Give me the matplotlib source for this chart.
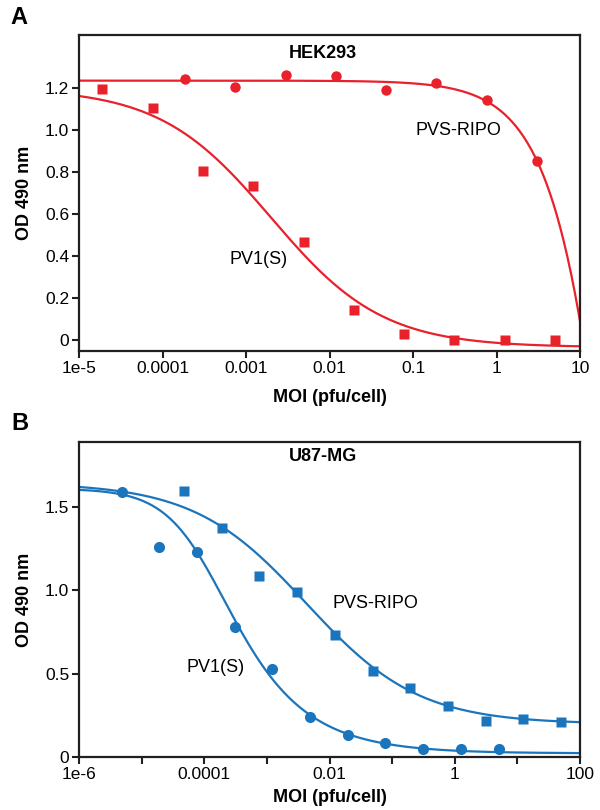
import numpy as np
import matplotlib
matplotlib.use('Agg')
from matplotlib import pyplot as plt

plt.rcParams['font.family'] = ['Liberation Sans', 'DejaVu Sans']

RED = '#E8212B'
BLUE = '#1B75BC'
INK = '#231F20'

# panel A - HEK293
hek_pv1_moi = [1.9e-5, 7.6e-5, 3.05e-4, 1.22e-3, 4.9e-3, 0.0195, 0.078, 0.31, 1.25, 5.0]
hek_pv1_od = [1.197, 1.105, 0.803, 0.735, 0.467, 0.143, 0.027, 0.002, 0.0, 0.0]
hek_ripo_moi = [1.86e-4, 7.45e-4, 2.98e-3, 0.0119, 0.0477, 0.19, 0.76, 3.05]
hek_ripo_od = [1.241, 1.206, 1.263, 1.255, 1.19, 1.225, 1.141, 0.85]

# panel B - U87-MG
u87_pv1_moi = [4.77e-6, 1.9e-5, 7.6e-5, 3.05e-4, 1.22e-3, 4.88e-3, 0.0195, 0.078, 0.3125, 1.25, 5.0]
u87_pv1_od = [1.588, 1.258, 1.228, 0.778, 0.526, 0.242, 0.132, 0.082, 0.050, 0.048, 0.050]
u87_ripo_moi = [4.77e-5, 1.9e-4, 7.6e-4, 3.05e-3, 0.0122, 0.049, 0.195, 0.78, 3.125, 12.5, 50]
u87_ripo_od = [1.596, 1.376, 1.086, 0.988, 0.732, 0.516, 0.416, 0.306, 0.218, 0.228, 0.212]

# fitted dose-response curves: top, bottom, log10(ec50), hill, asymmetry
hek_pv1_fit = (1.2, -0.035, -2.70, 0.65, 1.0)
hek_ripo_fit = (1.235, -8.27, 1.863, 1.0, 1.0)
u87_pv1_fit = (1.61, 0.022, -3.98, 1.0, 0.5)
u87_ripo_fit = (1.645, 0.198, -2.37, 0.483, 1.0)

hek_xticks = [1e-5, 1e-4, 1e-3, 1e-2, 1e-1, 1, 10]
hek_xlabels = ['1e-5', '0.0001', '0.001', '0.01', '0.1', '1', '10']
hek_yticks = [0, 0.2, 0.4, 0.6, 0.8, 1.0, 1.2]
hek_ylabels = ['0', '0.2', '0.4', '0.6', '0.8', '1.0', '1.2']

u87_xticks = [1e-6, 1e-5, 1e-4, 1e-3, 1e-2, 1e-1, 1, 10, 100]
u87_xlabels = ['1e-6', '', '0.0001', '', '0.01', '', '1', '', '100']
u87_yticks = [0, 0.5, 1.0, 1.5]
u87_ylabels = ['0', '0.5', '1.0', '1.5']


def dose_response(x, top, bottom, log_ec50, hill, asym):
	return bottom + (top - bottom) / (1 + (x / 10**log_ec50)**hill)**asym


def panel(ax, xlim, ylim, xticks, xlabels, yticks, ylabels, color):
	ax.set_xscale('log')
	ax.set_xlim(*xlim)
	ax.set_ylim(*ylim)
	ax.set_xticks(xticks)
	ax.set_xticklabels(xlabels)
	ax.xaxis.set_minor_locator(matplotlib.ticker.NullLocator())
	ax.set_yticks(yticks)
	ax.set_yticklabels(ylabels)
	for s in ax.spines.values():
		s.set_linewidth(1.6)
		s.set_color(INK)
	ax.tick_params(direction='out', length=5, width=1.5, color=INK,
				   labelsize=12.5, pad=2)


def main():
	fig = plt.figure(figsize=(6, 8.1), dpi=100)

	# A
	ax = fig.add_axes([0.1317, 0.5667, 0.835, 0.390])
	panel(ax, (1e-5, 10), (-0.0524, 1.452), hek_xticks, hek_xlabels,
		  hek_yticks, hek_ylabels, RED)
	xs = np.logspace(-5, 1, 400)
	ax.plot(xs, dose_response(xs, *hek_ripo_fit), color=RED, lw=1.6)
	ax.plot(xs, dose_response(xs, *hek_pv1_fit), color=RED, lw=1.6)
	ax.plot(hek_ripo_moi, hek_ripo_od, 'o', color=RED, ms=7.5, mec='none')
	ax.plot(hek_pv1_moi, hek_pv1_od, 's', color=RED, ms=6.5, mec='none')
	ax.text(0.486, 0.9415, 'HEK293', transform=ax.transAxes, ha='center',
			va='center', fontsize=13, fontweight='bold')
	ax.text(0.7565, 0.6994, 'PVS-RIPO', transform=ax.transAxes, ha='center',
			va='center', fontsize=13)
	ax.text(0.3583, 0.288, 'PV1(S)', transform=ax.transAxes, ha='center',
			va='center', fontsize=13)
	ax.set_xlabel('MOI (pfu/cell)', fontsize=13, fontweight='bold', va='center')
	ax.xaxis.set_label_coords(0.5, -0.1487)
	ax.set_ylabel('OD 490 nm', fontsize=13, fontweight='bold', va='center')
	ax.yaxis.set_label_coords(-0.1088, 0.5)
	fig.text(0.0167, 0.9778, 'A', fontsize=17, fontweight='bold', ha='left', va='center')

	# B
	ax = fig.add_axes([0.1317, 0.0654, 0.835, 0.389])
	panel(ax, (1e-6, 100), (0, 1.89), u87_xticks, u87_xlabels,
		  u87_yticks, u87_ylabels, BLUE)
	xs = np.logspace(-6, 2, 400)
	ax.plot(xs, dose_response(xs, *u87_ripo_fit), color=BLUE, lw=1.6)
	ax.plot(xs, dose_response(xs, *u87_pv1_fit), color=BLUE, lw=1.6)
	ax.plot(u87_pv1_moi, u87_pv1_od, 'o', color=BLUE, ms=8, mec='none')
	ax.plot(u87_ripo_moi, u87_ripo_od, 's', color=BLUE, ms=6.5, mec='none')
	ax.text(0.487, 0.954, 'U87-MG', transform=ax.transAxes, ha='center',
			va='center', fontsize=13, fontweight='bold')
	ax.text(0.5918, 0.4873, 'PVS-RIPO', transform=ax.transAxes, ha='center',
			va='center', fontsize=13)
	ax.text(0.2725, 0.284, 'PV1(S)', transform=ax.transAxes, ha='center',
			va='center', fontsize=13)
	ax.set_xlabel('MOI (pfu/cell)', fontsize=13, fontweight='bold', va='center')
	ax.xaxis.set_label_coords(0.5, -0.1286)
	ax.set_ylabel('OD 490 nm', fontsize=13, fontweight='bold', va='center')
	ax.yaxis.set_label_coords(-0.1088, 0.5)
	fig.text(0.0183, 0.4772, 'B', fontsize=17, fontweight='bold', ha='left', va='center')

	fig.savefig('out.png', dpi=100)


main()
